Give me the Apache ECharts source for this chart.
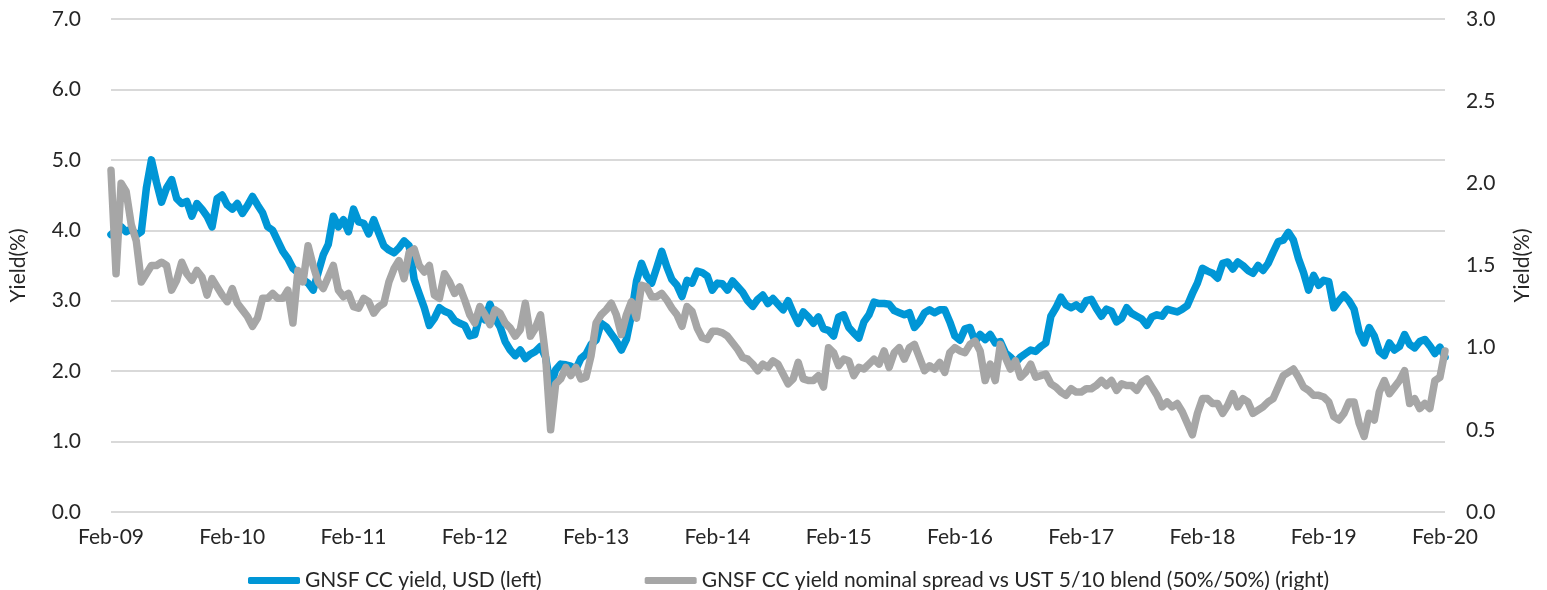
<!DOCTYPE html>
<html>
<head>
<meta charset="utf-8">
<script src="https://cdn.jsdelivr.net/npm/echarts@6/dist/echarts.min.js"></script>
<style>
html,body{margin:0;padding:0;background:#fff;}
#chart{width:1547px;height:590px;}
</style>
</head>
<body>
<div id="chart"></div>
<script>
// Semi-monthly observation dates, Feb 2009 - Feb 2020
const dates = [
"2009-02-01","2009-02-16","2009-03-01","2009-03-16","2009-04-01","2009-04-16","2009-05-01","2009-05-16","2009-06-01","2009-06-16","2009-07-01","2009-07-16","2009-08-01","2009-08-16","2009-09-01","2009-09-16","2009-10-01","2009-10-16","2009-11-01","2009-11-16","2009-12-01","2009-12-16","2010-01-01","2010-01-16",
"2010-02-01","2010-02-16","2010-03-01","2010-03-16","2010-04-01","2010-04-16","2010-05-01","2010-05-16","2010-06-01","2010-06-16","2010-07-01","2010-07-16","2010-08-01","2010-08-16","2010-09-01","2010-09-16","2010-10-01","2010-10-16","2010-11-01","2010-11-16","2010-12-01","2010-12-16","2011-01-01","2011-01-16",
"2011-02-01","2011-02-16","2011-03-01","2011-03-16","2011-04-01","2011-04-16","2011-05-01","2011-05-16","2011-06-01","2011-06-16","2011-07-01","2011-07-16","2011-08-01","2011-08-16","2011-09-01","2011-09-16","2011-10-01","2011-10-16","2011-11-01","2011-11-16","2011-12-01","2011-12-16","2012-01-01","2012-01-16",
"2012-02-01","2012-02-16","2012-03-01","2012-03-16","2012-04-01","2012-04-16","2012-05-01","2012-05-16","2012-06-01","2012-06-16","2012-07-01","2012-07-16","2012-08-01","2012-08-16","2012-09-01","2012-09-16","2012-10-01","2012-10-16","2012-11-01","2012-11-16","2012-12-01","2012-12-16","2013-01-01","2013-01-16",
"2013-02-01","2013-02-16","2013-03-01","2013-03-16","2013-04-01","2013-04-16","2013-05-01","2013-05-16","2013-06-01","2013-06-16","2013-07-01","2013-07-16","2013-08-01","2013-08-16","2013-09-01","2013-09-16","2013-10-01","2013-10-16","2013-11-01","2013-11-16","2013-12-01","2013-12-16","2014-01-01","2014-01-16",
"2014-02-01","2014-02-16","2014-03-01","2014-03-16","2014-04-01","2014-04-16","2014-05-01","2014-05-16","2014-06-01","2014-06-16","2014-07-01","2014-07-16","2014-08-01","2014-08-16","2014-09-01","2014-09-16","2014-10-01","2014-10-16","2014-11-01","2014-11-16","2014-12-01","2014-12-16","2015-01-01","2015-01-16",
"2015-02-01","2015-02-16","2015-03-01","2015-03-16","2015-04-01","2015-04-16","2015-05-01","2015-05-16","2015-06-01","2015-06-16","2015-07-01","2015-07-16","2015-08-01","2015-08-16","2015-09-01","2015-09-16","2015-10-01","2015-10-16","2015-11-01","2015-11-16","2015-12-01","2015-12-16","2016-01-01","2016-01-16",
"2016-02-01","2016-02-16","2016-03-01","2016-03-16","2016-04-01","2016-04-16","2016-05-01","2016-05-16","2016-06-01","2016-06-16","2016-07-01","2016-07-16","2016-08-01","2016-08-16","2016-09-01","2016-09-16","2016-10-01","2016-10-16","2016-11-01","2016-11-16","2016-12-01","2016-12-16","2017-01-01","2017-01-16",
"2017-02-01","2017-02-16","2017-03-01","2017-03-16","2017-04-01","2017-04-16","2017-05-01","2017-05-16","2017-06-01","2017-06-16","2017-07-01","2017-07-16","2017-08-01","2017-08-16","2017-09-01","2017-09-16","2017-10-01","2017-10-16","2017-11-01","2017-11-16","2017-12-01","2017-12-16","2018-01-01","2018-01-16",
"2018-02-01","2018-02-16","2018-03-01","2018-03-16","2018-04-01","2018-04-16","2018-05-01","2018-05-16","2018-06-01","2018-06-16","2018-07-01","2018-07-16","2018-08-01","2018-08-16","2018-09-01","2018-09-16","2018-10-01","2018-10-16","2018-11-01","2018-11-16","2018-12-01","2018-12-16","2019-01-01","2019-01-16",
"2019-02-01","2019-02-16","2019-03-01","2019-03-16","2019-04-01","2019-04-16","2019-05-01","2019-05-16","2019-06-01","2019-06-16","2019-07-01","2019-07-16","2019-08-01","2019-08-16","2019-09-01","2019-09-16","2019-10-01","2019-10-16","2019-11-01","2019-11-16","2019-12-01","2019-12-16","2020-01-01","2020-01-16",
"2020-02-01"
];

// GNSF CC yield, USD (left axis, %)
const yieldUSD = [
3.94,4.00,4.05,3.98,4.02,3.93,3.98,4.60,5.00,4.68,4.40,4.60,4.72,4.45,4.38,4.41,4.20,4.38,4.30,4.20,4.05,4.45,4.50,4.36,
4.30,4.38,4.24,4.35,4.48,4.36,4.25,4.05,4.00,3.85,3.70,3.60,3.46,3.40,3.30,3.25,3.15,3.40,3.65,3.80,4.20,4.05,4.15,3.98,
4.30,4.12,4.10,3.95,4.15,3.96,3.78,3.72,3.68,3.75,3.85,3.78,3.30,3.10,2.90,2.65,2.75,2.90,2.85,2.82,2.72,2.68,2.65,2.50,
2.52,2.80,2.73,2.95,2.75,2.63,2.42,2.30,2.22,2.30,2.18,2.24,2.28,2.35,2.20,1.78,2.02,2.10,2.09,2.07,2.03,2.18,2.24,2.38,
2.44,2.68,2.63,2.53,2.43,2.30,2.45,2.80,3.28,3.53,3.35,3.25,3.47,3.70,3.48,3.30,3.22,3.06,3.29,3.25,3.42,3.40,3.35,3.15,
3.25,3.24,3.15,3.28,3.20,3.12,3.00,2.92,3.02,3.08,2.96,3.03,2.95,2.87,3.00,2.83,2.68,2.84,2.77,2.68,2.77,2.60,2.58,2.50,
2.77,2.80,2.62,2.54,2.47,2.70,2.80,2.98,2.96,2.96,2.95,2.86,2.83,2.80,2.83,2.62,2.70,2.83,2.87,2.83,2.87,2.87,2.70,2.50,
2.44,2.60,2.62,2.42,2.52,2.45,2.52,2.40,2.42,2.26,2.20,2.12,2.20,2.25,2.30,2.28,2.35,2.40,2.78,2.90,3.05,2.94,2.90,2.94,
2.88,3.00,3.02,2.89,2.78,2.88,2.85,2.70,2.75,2.90,2.82,2.78,2.74,2.65,2.77,2.80,2.78,2.88,2.86,2.84,2.88,2.93,3.10,3.25,
3.46,3.42,3.39,3.32,3.53,3.55,3.45,3.55,3.50,3.43,3.39,3.50,3.43,3.53,3.69,3.84,3.86,3.97,3.86,3.60,3.40,3.15,3.36,3.22,
3.29,3.27,2.90,3.00,3.08,3.00,2.88,2.56,2.40,2.62,2.50,2.28,2.22,2.40,2.30,2.35,2.52,2.38,2.33,2.42,2.45,2.36,2.25,2.34,
2.20
];

// GNSF CC yield nominal spread vs UST 5/10 blend (right axis, %)
const spreadUST = [
2.08,1.45,2.00,1.95,1.75,1.65,1.40,1.45,1.50,1.50,1.52,1.50,1.35,1.41,1.52,1.45,1.41,1.47,1.43,1.32,1.42,1.37,1.32,1.28,
1.36,1.27,1.23,1.19,1.13,1.18,1.30,1.30,1.33,1.30,1.30,1.35,1.15,1.47,1.40,1.62,1.50,1.40,1.36,1.43,1.50,1.35,1.31,1.33,
1.25,1.24,1.30,1.28,1.21,1.25,1.27,1.40,1.48,1.53,1.42,1.58,1.60,1.50,1.46,1.50,1.32,1.30,1.45,1.40,1.33,1.37,1.29,1.20,
1.15,1.25,1.20,1.14,1.23,1.21,1.15,1.12,1.07,1.11,1.27,1.07,1.12,1.20,0.95,0.50,0.78,0.81,0.88,0.83,0.88,0.81,0.82,0.95,
1.15,1.20,1.23,1.27,1.20,1.08,1.20,1.28,1.18,1.38,1.37,1.31,1.31,1.33,1.29,1.24,1.20,1.13,1.25,1.22,1.12,1.06,1.05,1.10,
1.10,1.09,1.07,1.03,0.99,0.94,0.93,0.90,0.86,0.90,0.88,0.92,0.90,0.84,0.78,0.81,0.91,0.81,0.80,0.80,0.83,0.76,1.00,0.97,
0.89,0.93,0.92,0.83,0.88,0.87,0.90,0.93,0.90,0.98,0.88,0.97,1.00,0.93,1.00,1.02,0.94,0.86,0.89,0.87,0.91,0.85,0.97,1.00,
0.98,0.97,1.02,1.04,0.98,0.80,0.90,0.80,1.02,0.94,0.87,0.92,0.82,0.85,0.90,0.82,0.83,0.84,0.78,0.76,0.73,0.71,0.75,0.73,
0.73,0.75,0.75,0.77,0.80,0.77,0.80,0.74,0.78,0.77,0.77,0.74,0.79,0.81,0.76,0.71,0.64,0.67,0.64,0.66,0.61,0.54,0.47,0.60,
0.69,0.69,0.66,0.66,0.60,0.65,0.72,0.64,0.69,0.67,0.60,0.62,0.64,0.67,0.69,0.76,0.83,0.85,0.87,0.82,0.76,0.74,0.71,0.71,
0.70,0.67,0.58,0.56,0.60,0.67,0.67,0.54,0.46,0.60,0.56,0.73,0.80,0.72,0.76,0.80,0.86,0.66,0.69,0.63,0.66,0.63,0.80,0.82,
0.98
];

const seriesNames = ["GNSF CC yield, USD (left)", "GNSF CC yield nominal spread vs UST 5/10 blend (50%/50%) (right)"];
const axisTitle = "Yield(%)";
const monthNames = ["Jan","Feb","Mar","Apr","May","Jun","Jul","Aug","Sep","Oct","Nov","Dec"];

const FONT = "Lato";
const TXT = "#262626";
const chart = echarts.init(document.getElementById('chart'), null, {renderer: 'canvas'});
chart.setOption({
  animation: false,
  backgroundColor: '#ffffff',
  textStyle: {fontFamily: FONT},
  grid: {left: 110, right: 102, top: 19, bottom: 78, containLabel: false},
  legend: {
    left: 243, top: 565,
    itemWidth: 52, itemHeight: 7, itemGap: 103,
    icon: 'roundRect',
    textStyle: {fontFamily: FONT, fontSize: 21, color: TXT},
    data: seriesNames
  },
  xAxis: {
    type: 'category',
    data: dates,
    boundaryGap: false,
    axisLine: {show: false},
    axisTick: {show: false},
    splitLine: {show: false},
    axisLabel: {
      fontFamily: FONT, fontSize: 21, color: TXT, margin: 15,
      interval: function (idx) { return idx % 24 === 0; },
      formatter: function (v) {
        const p = v.split('-');
        return monthNames[parseInt(p[1], 10) - 1] + '-' + p[0].slice(2);
      }
    }
  },
  yAxis: [
    {
      type: 'value', min: 0, max: 7, interval: 1, position: 'left',
      name: axisTitle, nameLocation: 'middle', nameRotate: 90, nameGap: 82,
      nameTextStyle: {fontFamily: FONT, fontSize: 21, color: TXT},
      axisLine: {show: false}, axisTick: {show: false},
      axisLabel: {fontFamily: FONT, fontSize: 21, color: TXT, margin: 30,
        formatter: function (v) { return v.toFixed(1); }},
      splitLine: {show: true, lineStyle: {color: '#d9d9d9', width: 2}}
    },
    {
      type: 'value', min: 0, max: 3, interval: 0.5, position: 'right',
      name: axisTitle, nameLocation: 'middle', nameRotate: 90, nameGap: 67,
      nameTextStyle: {fontFamily: FONT, fontSize: 21, color: TXT},
      axisLine: {show: false}, axisTick: {show: false},
      axisLabel: {fontFamily: FONT, fontSize: 21, color: TXT, margin: 21,
        formatter: function (v) { return v.toFixed(1); }},
      splitLine: {show: false}
    }
  ],
  series: [
    {
      name: seriesNames[0], type: 'line', yAxisIndex: 0,
      data: yieldUSD, showSymbol: false, symbol: 'none',
      itemStyle: {color: '#0096D6'},
      lineStyle: {color: '#0096D6', width: 7.5, join: 'round', cap: 'round'},
      z: 2
    },
    {
      name: seriesNames[1], type: 'line', yAxisIndex: 1,
      data: spreadUST, showSymbol: false, symbol: 'none',
      itemStyle: {color: '#A6A6A6'},
      lineStyle: {color: '#A6A6A6', width: 7.5, join: 'round', cap: 'round'},
      z: 3
    }
  ]
});
</script>
</body>
</html>
